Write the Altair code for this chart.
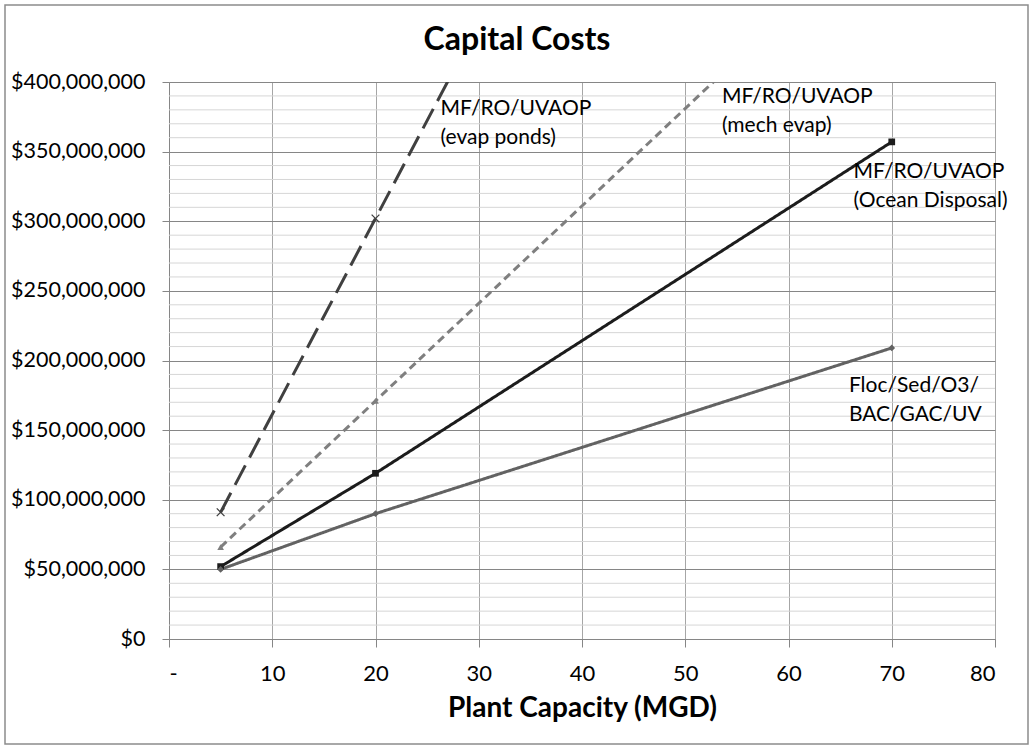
import altair as alt
import pandas as pd

# Plant capacity (MGD) at which each treatment train was costed
capacity = [5, 20, 70]

# Capital cost per treatment train ($)
series_names = [
    "MF/RO/UVAOP (evap ponds)",
    "MF/RO/UVAOP (mech evap)",
    "MF/RO/UVAOP (Ocean Disposal)",
    "Floc/Sed/O3/BAC/GAC/UV",
]
evap_ponds = [91_000_000, 302_000_000, 1_005_000_000]
mech_evap = [66_000_000, 171_000_000, 521_000_000]
ocean_disposal = [52_000_000, 119_000_000, 357_000_000]
floc_sed = [50_000_000, 90_000_000, 209_000_000]

# In-chart series labels (two lines each); anchor = left edge / first line, in data units
label_text = [
    ["MF/RO/UVAOP", "(evap ponds)"],
    ["MF/RO/UVAOP", "(mech evap)"],
    ["MF/RO/UVAOP", "(Ocean Disposal)"],
    ["Floc/Sed/O3/", "BAC/GAC/UV"],
]
label_x = [26.3, 53.55, 66.3, 65.85]
label_y = [380_500_000, 389_200_000, 335_300_000, 181_600_000]

x_ticks = list(range(0, 81, 10))
y_major = list(range(0, 400_000_001, 50_000_000))
y_minor = [v for v in range(0, 400_000_001, 10_000_000) if v % 50_000_000 != 0]

colors = ["#404040", "#7f7f7f", "#1c1c1c", "#626262"]
dashes = [[22, 9], [8, 5], [1, 0], [1, 0]]
widths = [3, 3, 2.5, 3]
shapes = ["M-1,-1L1,1M-1,1L1,-1", "triangle-up", "square", "diamond"]

FONT = "Lato"
AXIS_GREY = "#868686"
W, H = 826, 557

rows = []
for name, vals in zip(series_names, [evap_ponds, mech_evap, ocean_disposal, floc_sed]):
    for c, v in zip(capacity, vals):
        rows.append({"series": name, "capacity": c, "cost": v})
df = pd.DataFrame(rows)

labels_df = pd.DataFrame({
    "series": series_names,
    "text": label_text,
    "x": label_x,
    "y": label_y,
})

x_scale = alt.Scale(domain=[0, 80], nice=False, zero=False)
y_scale = alt.Scale(domain=[0, 400_000_000], nice=False)

x_axis = alt.Axis(
    values=x_ticks,
    labelExpr="datum.value == 0 ? '-' : datum.label",
    grid=True,
    gridColor="#a6a6a6",
    gridWidth=1,
    domainColor=AXIS_GREY,
    tickColor=AXIS_GREY,
    tickSize=8,
    labelFont=FONT,
    labelFontSize=22,
    labelColor="#000000",
    labelPadding=16,
    title="Plant Capacity (MGD)",
    titleFont=FONT,
    titleFontSize=28,
    titleFontWeight="bold",
    titleColor="#000000",
    titlePadding=10,
)
y_axis = alt.Axis(
    values=y_major,
    format="$,.0f",
    grid=True,
    gridColor=AXIS_GREY,
    gridWidth=1,
    domainColor=AXIS_GREY,
    tickColor=AXIS_GREY,
    tickSize=7,
    labelFont=FONT,
    labelFontSize=21.5,
    labelColor="#000000",
    labelPadding=17,
    title=None,
)


def xq(field):
    return alt.X(field, scale=x_scale, axis=x_axis)


def yq(field):
    return alt.Y(field, scale=y_scale, axis=y_axis)


color = alt.Color("series:N", scale=alt.Scale(domain=series_names, range=colors), legend=None)

# light minor gridlines every $10M
minor = alt.Chart(pd.DataFrame({"v": y_minor})).mark_rule(
    color="#d6d6d6", strokeWidth=1
).encode(y=yq("v:Q"))

lines = alt.Chart(df).mark_line(clip=True).encode(
    x=xq("capacity:Q"),
    y=yq("cost:Q"),
    color=color,
    strokeDash=alt.StrokeDash("series:N", scale=alt.Scale(domain=series_names, range=dashes), legend=None),
    strokeWidth=alt.StrokeWidth("series:N", scale=alt.Scale(domain=series_names, range=widths), legend=None),
    detail="series:N",
)

solid_markers = alt.Chart(df).transform_filter(
    alt.datum.series != series_names[0]
).mark_point(filled=True, size=45, opacity=1, clip=True).encode(
    x=xq("capacity:Q"),
    y=yq("cost:Q"),
    color=color,
    shape=alt.Shape("series:N", scale=alt.Scale(domain=series_names, range=shapes), legend=None),
)

x_markers = alt.Chart(df).transform_filter(
    alt.datum.series == series_names[0]
).mark_point(filled=False, size=60, strokeWidth=1.3, opacity=1, clip=True,
             shape=shapes[0]).encode(
    x=xq("capacity:Q"),
    y=yq("cost:Q"),
    color=color,
)

labels = alt.Chart(labels_df).mark_text(
    align="left", baseline="middle", font=FONT, fontSize=21, lineHeight=29, color="#000000"
).encode(
    x=xq("x:Q"),
    y=yq("y:Q"),
    text="text",
)

deco = pd.DataFrame({"t": ["Capital Costs"]})

# chart title, centred on the whole chart area
title = alt.Chart(deco).mark_text(
    font=FONT, fontSize=32, fontWeight="bold", color="#000000",
    align="center", baseline="middle"
).encode(x=alt.value(348), y=alt.value(-42), text="t:N")

# chart-area frame
frame = alt.Chart(deco).mark_rect(
    fill=None, stroke="#8c8c8c", strokeWidth=1.5
).encode(
    x=alt.value(-164), x2=alt.value(859), y=alt.value(-77), y2=alt.value(662)
)

chart = alt.layer(minor, lines, solid_markers, x_markers, labels, title, frame).properties(
    width=W,
    height=H,
    autosize=alt.AutoSizeParams(type="none"),
    padding={"left": 169, "top": 82, "right": 40, "bottom": 110},
).configure_view(stroke=None).configure(background="#ffffff")

chart.save("out.html", embed_options={"renderer": "svg", "actions": False})
